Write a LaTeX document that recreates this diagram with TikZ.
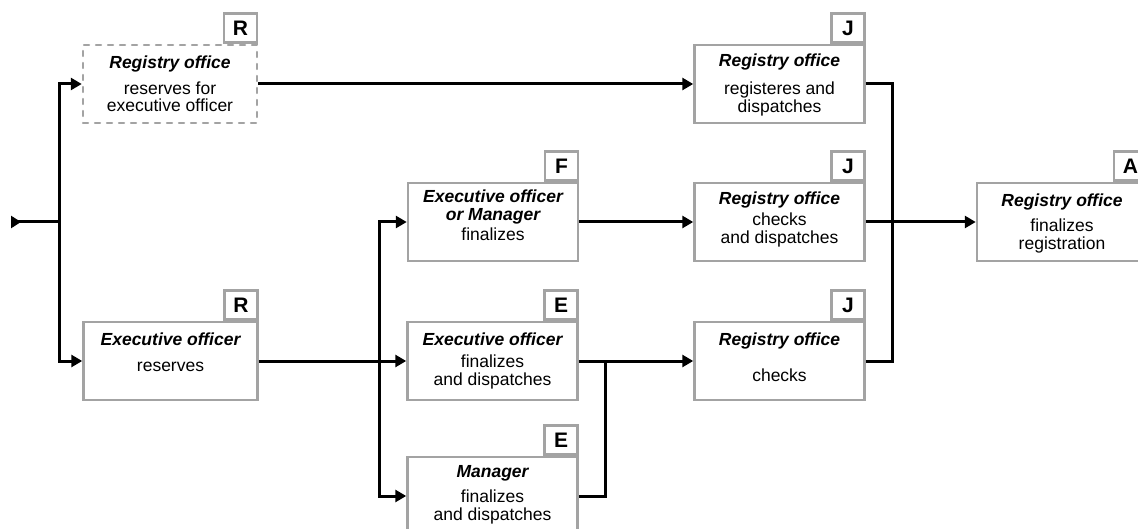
\documentclass[tikz,border=0pt]{standalone}
\usepackage{fontspec}
\setmainfont{Liberation Sans}
\usetikzlibrary{arrows.meta}
\definecolor{boxgray}{HTML}{A3A3A3}
\tikzset{
 box/.style={draw=boxgray, line width=2.5pt, minimum width=170pt, minimum height=78pt, inner sep=0pt, fill=white},
 widebox/.style={box, minimum width=174pt},
 dbox/.style={widebox, dash pattern=on 5pt off 7pt, line cap=round},
 badge/.style={draw=boxgray, line width=2.5pt, minimum width=33pt, minimum height=29pt, inner sep=0pt, font=\fontsize{21}{21}\selectfont\bfseries, anchor=south east, fill=white},
 ttl/.style={font=\fontsize{17.5}{17.5}\selectfont\bfseries\itshape, align=center, inner sep=0pt},
 bdy/.style={font=\fontsize{17.5}{17.5}\selectfont, align=center, inner sep=0pt},
 conn/.style={line width=3pt, black},
 arr/.style={conn, -{Triangle[length=11pt,width=12pt]}},
}
% name, x, y, style, badge, title, title offset, body, body offset
\newcommand\pbox[9]{%
 \node[#4] (#1) at (#2,#3) {};
 \node[badge] (#1-badge) at (#1.north east) {#5};
 \node[ttl] (#1-title) at ([yshift=-#7pt]#1.north) {#6};
 \node[bdy] (#1-body) at ([yshift=-#9pt]#1.north) {#8};
}
\begin{document}
\begin{tikzpicture}[x=1pt,y=-1pt]
\useasboundingbox (0,0) rectangle (1138,529);
\pbox{rdash}{170}{84}{dbox}{R}{Registry office}{20}{reserves for\\executive officer}{53}
\pbox{exres}{170.5}{361}{widebox}{R}{Executive officer}{18}{reserves}{46}
\pbox{fin}{493}{222}{box}{F}{Executive officer\\or Manager}{25}{finalizes}{52}
\pbox{efd}{492.5}{361}{box}{E}{Executive officer}{18}{finalizes\\and dispatches}{51}
\pbox{mfd}{492.5}{496}{box}{E}{Manager}{18}{finalizes\\and dispatches}{51}
\pbox{rrd}{779.5}{84}{box}{J}{Registry office}{18}{registeres and\\dispatches}{55}
\pbox{rcd}{779.5}{222}{box}{J}{Registry office}{18}{checks\\and dispatches}{48}
\pbox{rc}{779.5}{361}{box}{J}{Registry office}{20}{checks}{54}
\pbox{fr}{1062}{222}{box}{A}{Registry office}{20}{finalizes\\registration}{54}

\coordinate (start) at (11,222);
\coordinate (j0) at (59,222);
\coordinate (j1) at (379,361);
\coordinate (j2) at (605,361);
\coordinate (j3) at (892,222);

\draw[conn, {Triangle[reversed,length=10pt,width=12pt]}-] (start) -- (j0);
\draw[arr] (j0) |- (rdash.west);
\draw[arr] (j0) |- (exres.west);
\draw[arr] (rdash.east) -- (rrd.west);
\draw[conn] (exres.east) -- (j1);
\draw[arr] (j1) |- (fin.west);
\draw[arr] (j1) -- (efd.west);
\draw[arr] (j1) |- (mfd.west);
\draw[arr] (fin.east) -- (rcd.west);
\draw[arr] (efd.east) -- (rc.west);
\draw[conn] (mfd.east) -| (j2);
\draw[conn] (rrd.east) -| (j3);
\draw[conn] (rc.east) -| (j3);
\draw[arr] (rcd.east) -- (fr.west);
\end{tikzpicture}
\end{document}
